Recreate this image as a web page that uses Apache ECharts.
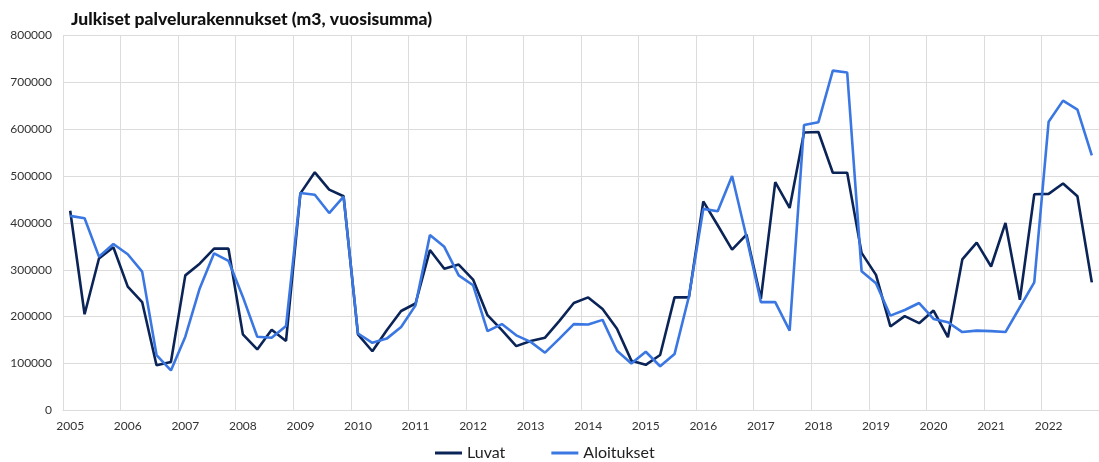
<!DOCTYPE html>
<html>
<head>
<meta charset="utf-8">
<title>Julkiset palvelurakennukset</title>
<script src="https://cdn.jsdelivr.net/npm/echarts@6/dist/echarts.min.js"></script>
<style>
html, body { margin: 0; padding: 0; background: #fff; }
#chart { width: 1099px; height: 462px; }
</style>
</head>
<body>
<div id="chart"></div>
<script>
// vuodet ja neljännekset (2005Q1 - 2022Q4)
var years = ['2005', '2006', '2007', '2008', '2009', '2010', '2011', '2012', '2013',
             '2014', '2015', '2016', '2017', '2018', '2019', '2020', '2021', '2022'];
var quarters = ['Q1', 'Q2', 'Q3', 'Q4'];

// Luvat, m3 vuosisumma
var luvat = [
  426000, 205000, 324000, 348000, 264000, 231000, 96000, 103000,
  288000, 313000, 345000, 345000, 162000, 130000, 172000, 148000,
  463000, 508000, 471000, 457000, 162000, 126000, 171000, 212000,
  228000, 342000, 302000, 311000, 279000, 203000, 171000, 137000,
  148000, 155000, 191000, 229000, 241000, 216000, 174000, 106000,
  97000, 118000, 241000, 241000, 446000, 395000, 343000, 375000,
  238000, 487000, 432000, 593000, 594000, 507000, 507000, 336000,
  289000, 179000, 201000, 186000, 213000, 156000, 322000, 358000,
  307000, 400000, 236000, 461000, 462000, 484000, 457000, 273000
];

// Aloitukset, m3 vuosisumma
var aloitukset = [
  415000, 410000, 328000, 355000, 333000, 296000, 118000, 85000,
  157000, 260000, 335000, 319000, 242000, 157000, 155000, 180000,
  464000, 460000, 421000, 456000, 164000, 144000, 153000, 178000,
  224000, 374000, 349000, 288000, 267000, 169000, 184000, 160000,
  146000, 123000, 153000, 184000, 183000, 193000, 127000, 100000,
  125000, 94000, 120000, 243000, 430000, 425000, 500000, 370000,
  231000, 231000, 170000, 609000, 615000, 725000, 721000, 297000,
  271000, 202000, 214000, 229000, 195000, 188000, 167000, 170000,
  169000, 167000, 220000, 273000, 616000, 661000, 642000, 544000
];

var yTicks = [0, 100000, 200000, 300000, 400000, 500000, 600000, 700000, 800000];

var categories = [];
years.forEach(function (y) {
  quarters.forEach(function (q) {
    categories.push(y + q);
  });
});

var chart = echarts.init(document.getElementById('chart'));
var fontFamily = 'Lato, "Noto Sans", sans-serif';

var option = {
  animation: false,
  color: ['#0b2458', '#3b77e2'],
  textStyle: { fontFamily: fontFamily },
  title: {
    text: 'Julkiset palvelurakennukset (m3, vuosisumma)',
    left: 66,
    top: 5,
    textStyle: {
      fontFamily: fontFamily,
      fontSize: 17.5,
      fontWeight: 900,
      color: '#111'
    }
  },
  legend: {
    top: 440,
    left: 430,
    icon: 'rect',
    itemWidth: 27,
    itemHeight: 3,
    itemGap: 46,
    textStyle: { fontSize: 16, color: '#222', fontFamily: fontFamily },
    data: ['Luvat', 'Aloitukset']
  },
  grid: {
    left: 63,
    top: 35.5,
    width: 1042,
    height: 374.8,
    containLabel: false
  },
  xAxis: {
    type: 'category',
    boundaryGap: true,
    data: categories,
    axisLine: { show: true, lineStyle: { color: '#dcdcdc' } },
    axisTick: { show: false },
    axisLabel: {
      interval: 3,
      margin: 10,
      fontSize: 12,
      color: '#333',
      formatter: function (v) { return v.slice(0, 4); }
    },
    splitLine: {
      show: true,
      interval: 3,
      lineStyle: { color: '#dcdcdc', width: 1 }
    }
  },
  yAxis: {
    type: 'value',
    min: yTicks[0],
    max: yTicks[yTicks.length - 1],
    interval: yTicks[1] - yTicks[0],
    axisLine: { show: false },
    axisTick: { show: false },
    axisLabel: {
      margin: 11,
      fontSize: 12,
      color: '#333',
      formatter: function (v) { return String(v); }
    },
    splitLine: { lineStyle: { color: '#dcdcdc', width: 1 } }
  },
  series: [
    {
      name: 'Luvat',
      type: 'line',
      symbol: 'none',
      data: luvat,
      lineStyle: { width: 2.6 }
    },
    {
      name: 'Aloitukset',
      type: 'line',
      symbol: 'none',
      data: aloitukset,
      lineStyle: { width: 2.6 }
    }
  ]
};

chart.setOption(option);
</script>
</body>
</html>
